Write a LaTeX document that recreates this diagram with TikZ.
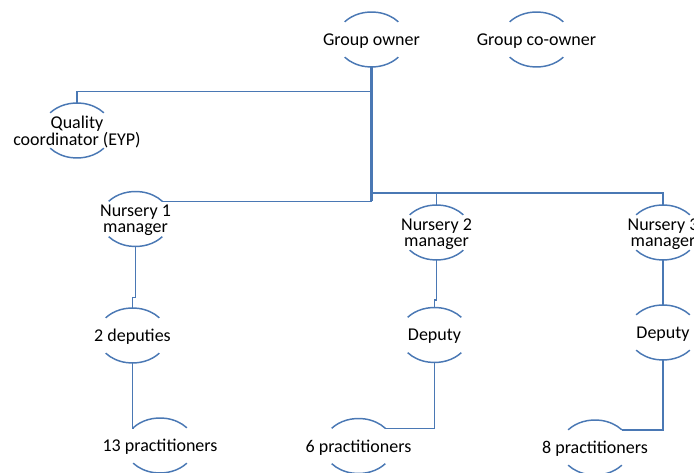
\documentclass[tikz,border=0pt]{standalone}
\usepackage{fontspec}
\setmainfont{Carlito}
\usepackage{xcolor}
\usepackage{tikz}

\definecolor{lineblue}{RGB}{74,120,180}
\tikzset{
  unit/.style={font=\fontsize{13.5}{12}\selectfont, align=center, inner sep=0pt, text depth=0pt, text=black},
  ring/.style={draw=lineblue, line width=1.1pt},
  link/.style={draw=lineblue, line width=1.1pt},
  trunk/.style={draw=lineblue, line width=1.6pt},
}
% top and bottom arcs round a node, plus the points where lines meet them
\newcommand\ringarcs[1]{%
  \draw[ring] (#1.center) ++(220:35 and 27.5) arc[start angle=220, end angle=320, x radius=35, y radius=27.5];
  \draw[ring] (#1.center) ++(40:35 and 27.5) arc[start angle=40, end angle=140, x radius=35, y radius=27.5];
  \path (#1.center) ++(0,-27.5) coordinate (#1-t);
  \path (#1.center) ++(0,27.5) coordinate (#1-b);
  \path (#1.center) ++(220:35 and 27.5) coordinate (#1-tl);
  \path (#1.center) ++(320:35 and 27.5) coordinate (#1-tr);
}

\begin{document}
\begin{tikzpicture}[x=0.75pt,y=0.75pt,yscale=-1,xscale=1]
\useasboundingbox (0,0) rectangle (694,473);

% Text Node
\node[unit] (owner) at (371.5,39.5) {Group owner};
% Text Node
\node[unit] (coowner) at (536.5,39.5) {Group co-owner};
% Text Node
\node[unit] (quality) at (77,130.5) {Quality\\coordinator (EYP)};
% Text Node
\node[unit] (nurs1) at (135.5,219) {Nursery 1\\manager};
% Text Node
\node[unit] (nurs2) at (436.5,232.5) {Nursery 2\\manager};
% Text Node
\node[unit] (nurs3) at (663,232.5) {Nursery 3\\manager};
% Text Node
\node[unit] (dep1) at (132.5,335.5) {2 deputies};
% Text Node
\node[unit] (dep2) at (434.5,335) {Deputy};
% Text Node
\node[unit] (dep3) at (663,332.5) {Deputy};
% Text Node
\node[unit] (prac1) at (160,445.5) {13 practitioners};
% Text Node
\node[unit] (prac2) at (358.5,446) {6 practitioners};
% Text Node
\node[unit] (prac3) at (595,447.5) {8 practitioners};

%Arcs
\foreach \n in {owner,coowner,quality,nurs1,nurs2,nurs3,dep1,dep2,dep3,prac1,prac2,prac3}
  {\ringarcs{\n}}

\coordinate (jq) at (371.5,91.5);
\coordinate (hub) at (371.5,193);

%Straight Lines
\draw[trunk] (owner-b) -- (owner-b |- nurs1-tr);
\draw[link] (quality-t) |- (jq);
\draw[link] (nurs1-tr) -- (nurs1-tr -| owner-b);
\draw[link] (hub) -| (nurs2-t);
\draw[link] (hub) -| (nurs3-t);

\draw[link] (nurs1-b) -- ++(0,51) -| (dep1-t);
\draw[link] (nurs2-b) -- ++(0,40) -| (dep2-t);
\draw[link] (nurs3-b) -- (dep3-t);

\draw[link] (dep1-b) |- (prac1-tl);
\draw[link] (dep2-b) |- (prac2-tr);
\draw[link] (dep3-b) |- (prac3-tr);
\end{tikzpicture}
\end{document}
